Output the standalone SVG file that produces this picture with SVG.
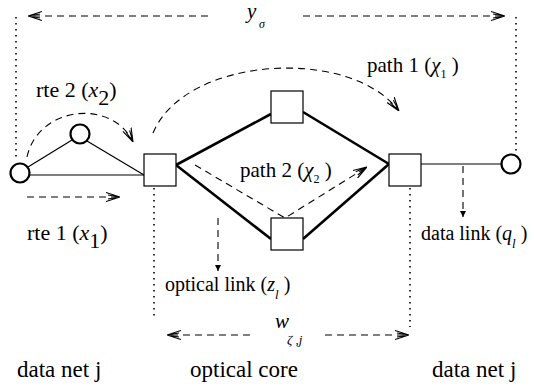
<svg xmlns="http://www.w3.org/2000/svg" width="534" height="388" viewBox="0 0 534 388">
<style>
.t{font-family:"Liberation Serif","Times New Roman",serif;font-size:20px;fill:#000}
.i{font-style:italic}
.big{font-size:23px}
.mid{font-size:22px}
.m21{font-size:21px}
.thin{fill:none;stroke:#000;stroke-width:1.2}
.bold{fill:none;stroke:#000;stroke-width:2.6}
.dash{fill:none;stroke:#000;stroke-width:1.1;stroke-dasharray:7 5}
.dot{fill:none;stroke:#000;stroke-width:1.6;stroke-dasharray:1.6 4.4}
.sq{fill:#fff;stroke:#000;stroke-width:1.2}
.ci{fill:#fff;stroke:#000;stroke-width:2.2}
</style>
<defs>
<marker id="open" viewBox="0 0 14 10" refX="14" refY="5" markerWidth="14" markerHeight="10" markerUnits="userSpaceOnUse" orient="auto-start-reverse">
<path d="M0,0.5 L14,5 L0,9.5 M2,3 L14,5 L2,7" fill="none" stroke="#000" stroke-width="1.1" stroke-dasharray="none"/>
</marker>
<marker id="fill" viewBox="0 0 6 6" refX="6" refY="3" markerWidth="6" markerHeight="6" markerUnits="userSpaceOnUse" orient="auto">
<path d="M0,0 L6,3 L0,6 Z" fill="#000" stroke="none"/>
</marker>
</defs>

<g id="connectors">
<!-- data net links -->
<line class="thin" x1="29" y1="175" x2="144" y2="175"/>
<line class="thin" x1="28" y1="167" x2="72" y2="140"/>
<line class="thin" x1="87" y1="141" x2="144" y2="175"/>
<line class="thin" x1="421" y1="164" x2="501" y2="164"/>
<!-- optical core links -->
<line class="bold" x1="176" y1="165" x2="271" y2="114"/>
<line class="bold" x1="303" y1="112" x2="389" y2="164"/>
<line class="bold" x1="176" y1="165" x2="271" y2="239"/>
<line class="bold" x1="303" y1="239" x2="389" y2="164"/>
<!-- dimension lines -->
<line class="dot" x1="16" y1="17" x2="16" y2="161"/>
<line class="dot" x1="516" y1="17" x2="516" y2="155"/>
<line class="dot" x1="154" y1="188" x2="154" y2="318"/>
<line class="dot" x1="410" y1="188" x2="410" y2="327"/>
<line class="dash" x1="208" y1="16" x2="28" y2="16" marker-end="url(#open)"/>
<line class="dash" x1="303" y1="16" x2="505" y2="16" marker-end="url(#open)"/>
<line class="dash" x1="250" y1="335" x2="167" y2="335" marker-end="url(#open)"/>
<line class="dash" x1="325" y1="335" x2="409" y2="335" marker-end="url(#open)"/>
<!-- route / path arrows -->
<path class="dash" d="M27,157 C38,106 112,98 133,142" marker-end="url(#open)"/>
<line class="dash" x1="27" y1="197" x2="120" y2="197" marker-end="url(#open)"/>
<path class="dash" d="M153,133 C185,56 350,46 399,111" marker-end="url(#open)"/>
<path class="dash" d="M195,165 L285,218 L367,167" marker-end="url(#open)"/>
<line class="dash" x1="218" y1="218" x2="218" y2="271" marker-end="url(#fill)"/>
<line class="dash" x1="463" y1="166" x2="463" y2="217" marker-end="url(#fill)"/>
</g>

<g id="n-src"><circle class="ci" cx="20" cy="173" r="9.5"/></g>
<g id="n-mid"><circle class="ci" cx="80" cy="134" r="9.5"/></g>
<g id="n-dst"><circle class="ci" cx="511" cy="164" r="9.5"/></g>
<g id="n-left"><rect class="sq" x="144" y="154" width="32" height="32"/></g>
<g id="n-top"><rect class="sq" x="271" y="91" width="32" height="32"/></g>
<g id="n-bottom"><rect class="sq" x="271" y="218" width="32" height="32"/></g>
<g id="n-right"><rect class="sq" x="389" y="154" width="32" height="32"/></g>

<g id="labels">
<text class="t i m21" x="247" y="18">y</text>
<text class="t i" x="259" y="28" style="font-size:12px">σ</text>
<text class="t mid" x="36" y="97">rte 2 (<tspan class="i">x</tspan><tspan dy="8">2</tspan><tspan dy="-8">)</tspan></text>
<text class="t mid" x="27" y="240">rte 1 (<tspan class="i">x</tspan><tspan dy="8">1</tspan><tspan dy="-8">)</tspan></text>
<text class="t m21" x="367" y="72">path 1 (<tspan class="i">χ</tspan><tspan dy="6" style="font-size:12px">1</tspan><tspan dy="-6"> )</tspan></text>
<text class="t m21" x="240" y="177">path 2 (<tspan class="i">χ</tspan><tspan dy="6" style="font-size:12px">2</tspan><tspan dy="-6"> )</tspan></text>
<text class="t" x="165" y="291">optical link (<tspan class="i">z</tspan><tspan class="i" dy="8" style="font-size:13px">l</tspan><tspan dy="-8"> )</tspan></text>
<text class="t" x="421" y="240">data link (<tspan class="i">q</tspan><tspan class="i" dy="8" style="font-size:13px">l</tspan><tspan dy="-8"> )</tspan></text>
<text class="t i m21" x="275" y="328">w</text>
<text class="t i" x="287" y="344" style="font-size:13px">ζ ,j</text>
<text class="t big" x="17" y="377">data net j</text>
<text class="t big" x="190" y="377">optical core</text>
<text class="t big" x="432" y="377">data net j</text>
</g>
</svg>
